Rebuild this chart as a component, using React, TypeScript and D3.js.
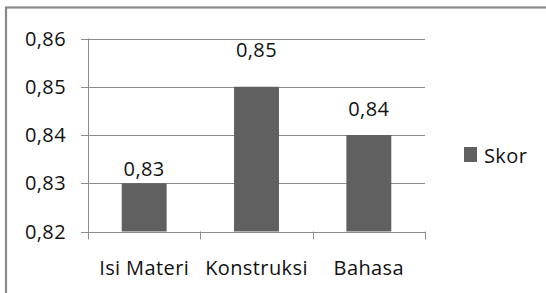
import React, { useRef, useEffect } from "react";
import * as d3 from "d3";

// chart data
const categories = ["Isi Materi", "Konstruksi", "Bahasa"];
const skor = [0.83, 0.85, 0.84];
const yTicks = [0.82, 0.83, 0.84, 0.85, 0.86];
const seriesName = "Skor";

const W = 546;
const H = 293;
const FONT = "'Open Sans', sans-serif";
const FS = 20;
const LS = 0.4;
const BAR = "#606060";
const GRID = "#8c8c8c";

const fmt = (v: number) => v.toFixed(2).replace(".", ",");

const App = () => {
  const svgRef = useRef<SVGSVGElement>(null);

  useEffect(() => {
    const root = d3.select(svgRef.current);
    root.selectAll("*").remove();

    // outer frame (cut at right / bottom)
    root
      .append("rect")
      .attr("x", 6)
      .attr("y", 7.5)
      .attr("width", W + 20)
      .attr("height", H + 20)
      .attr("fill", "none")
      .attr("stroke", "#8a8a8a")
      .attr("stroke-width", 2.2);

    // scales
    const x = d3.scaleBand().domain(categories).range([88, 425]);
    const y = d3.scaleLinear().domain([0.82, 0.86]).range([231.5, 38.5]);
    // data labels sit higher the taller the bar (as in the source chart)
    const labelY = d3.scaleLinear().domain([0.83, 0.85]).range([175.5, 57]);

    const label = (sel: any) =>
      sel
        .attr("font-family", FONT)
        .attr("font-size", FS)
        .attr("letter-spacing", LS)
        .attr("fill", "#111");

    // gridlines
    root
      .append("g")
      .selectAll("line")
      .data(yTicks)
      .enter()
      .append("line")
      .attr("x1", 81)
      .attr("x2", 425)
      .attr("y1", (d) => Math.round(y(d)) + 0.5)
      .attr("y2", (d) => Math.round(y(d)) + 0.5)
      .attr("stroke", GRID)
      .attr("stroke-width", 1);

    // y axis line
    root
      .append("line")
      .attr("x1", 88.5)
      .attr("x2", 88.5)
      .attr("y1", y(0.86))
      .attr("y2", y(0.82))
      .attr("stroke", GRID);

    // y tick labels
    root
      .append("g")
      .selectAll("text")
      .data(yTicks)
      .enter()
      .append("text")
      .attr("x", 66)
      .attr("y", (d) => y(d) + 7)
      .attr("text-anchor", "end")
      .call(label)
      .text(fmt);

    // x ticks at band boundaries
    const bounds = categories.map((c) => x(c) as number).concat([x.range()[1]]);
    root
      .append("g")
      .selectAll("line")
      .data(bounds)
      .enter()
      .append("line")
      .attr("x1", (d) => Math.round(d) + 0.5)
      .attr("x2", (d) => Math.round(d) + 0.5)
      .attr("y1", y(0.82))
      .attr("y2", y(0.82) + 8)
      .attr("stroke", GRID);

    // bars
    const bw = x.bandwidth() * 0.4;
    root
      .append("g")
      .selectAll("rect")
      .data(skor)
      .enter()
      .append("rect")
      .attr("x", (d, i) => (x(categories[i]) as number) + (x.bandwidth() - bw) / 2)
      .attr("y", (d) => y(d))
      .attr("width", bw)
      .attr("height", (d) => y(0.82) - y(d))
      .attr("fill", BAR);

    // value labels
    root
      .append("g")
      .selectAll("text")
      .data(skor)
      .enter()
      .append("text")
      .attr("x", (d, i) => (x(categories[i]) as number) + x.bandwidth() / 2)
      .attr("y", (d) => labelY(d))
      .attr("text-anchor", "middle")
      .call(label)
      .text(fmt);

    // category labels
    root
      .append("g")
      .selectAll("text")
      .data(categories)
      .enter()
      .append("text")
      .attr("x", (d) => (x(d) as number) + x.bandwidth() / 2)
      .attr("y", 275)
      .attr("text-anchor", "middle")
      .call(label)
      .text((d) => d);

    // legend
    root
      .append("rect")
      .attr("x", 464)
      .attr("y", 147)
      .attr("width", 13)
      .attr("height", 15)
      .attr("fill", BAR);
    root
      .append("text")
      .attr("x", 484)
      .attr("y", 162.5)
      .call(label)
      .text(seriesName);
  }, []);

  return (
    <svg
      ref={svgRef}
      width={W}
      height={H}
      style={{ position: "absolute", left: 0, top: 0, background: "#fff" }}
    ></svg>
  );
};

export default App;
